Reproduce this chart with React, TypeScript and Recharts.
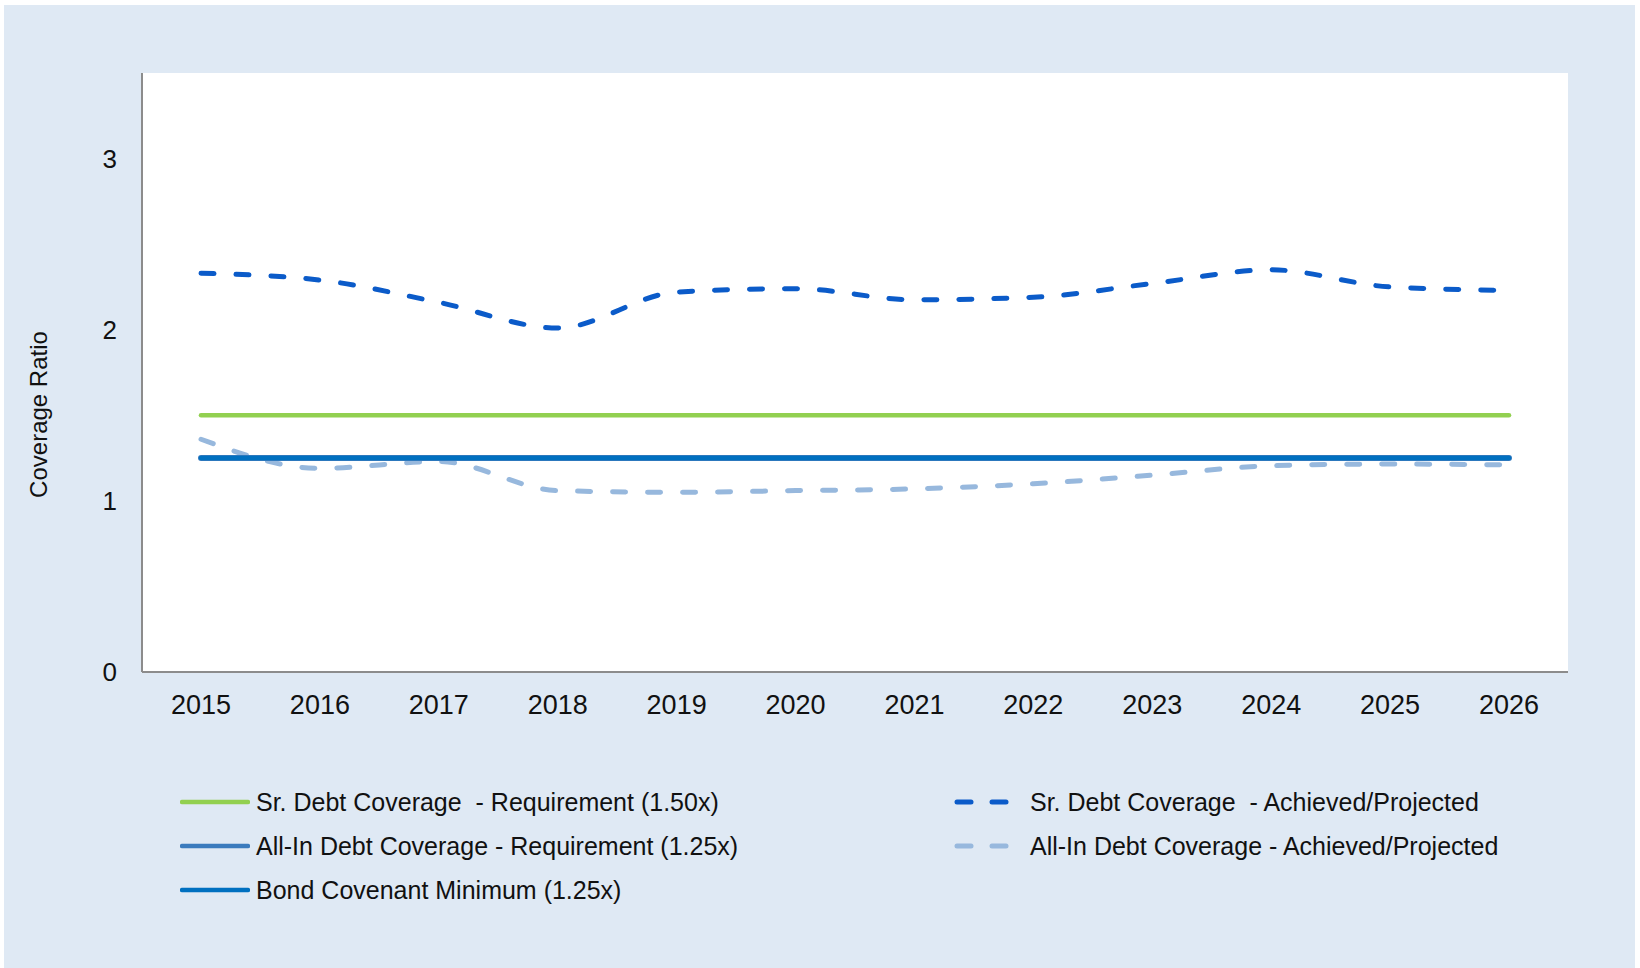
import { LineChart, Line, XAxis, YAxis, CartesianGrid, Legend, Label } from "recharts";

const years = ["2015", "2016", "2017", "2018", "2019", "2020", "2021", "2022", "2023", "2024", "2025", "2026"];
const srDebtRequirement = [1.5, 1.5, 1.5, 1.5, 1.5, 1.5, 1.5, 1.5, 1.5, 1.5, 1.5, 1.5];
const allInRequirement = [1.25, 1.25, 1.25, 1.25, 1.25, 1.25, 1.25, 1.25, 1.25, 1.25, 1.25, 1.25];
const bondCovenantMin = [1.25, 1.25, 1.25, 1.25, 1.25, 1.25, 1.25, 1.25, 1.25, 1.25, 1.25, 1.25];
const srDebtAchieved = [2.33, 2.29, 2.16, 2.01, 2.22, 2.24, 2.175, 2.19, 2.27, 2.35, 2.25, 2.23];
const allInAchieved = [1.36, 1.19, 1.23, 1.06, 1.05, 1.06, 1.07, 1.1, 1.15, 1.205, 1.215, 1.21];
const yTicks = [0, 1, 2, 3];

const data = years.map((year, i) => ({
  year,
  srReq: srDebtRequirement[i],
  allInReq: allInRequirement[i],
  bond: bondCovenantMin[i],
  srAch: srDebtAchieved[i],
  allInAch: allInAchieved[i],
}));

const FONT = '"Liberation Sans", Arial, sans-serif';
const PANEL = "#dfe9f4";

const series = [
  { key: "srReq", name: "Sr. Debt Coverage  - Requirement (1.50x)", color: "#92d050", dashed: false },
  { key: "allInReq", name: "All-In Debt Coverage - Requirement (1.25x)", color: "#3b7bbd", dashed: false },
  { key: "bond", name: "Bond Covenant Minimum (1.25x)", color: "#0070c0", dashed: false },
  { key: "srAch", name: "Sr. Debt Coverage  - Achieved/Projected", color: "#0b5bc9", dashed: true },
  { key: "allInAch", name: "All-In Debt Coverage - Achieved/Projected", color: "#97b8dd", dashed: true },
];

function LegendIcon({ color, dashed }: { color: string; dashed: boolean }) {
  if (dashed) {
    return (
      <svg width={56} height={10} style={{ flex: "none" }}>
        <line x1={3} y1={5} x2={17} y2={5} stroke={color} strokeWidth={5} strokeLinecap="round" />
        <line x1={38} y1={5} x2={52} y2={5} stroke={color} strokeWidth={5} strokeLinecap="round" />
      </svg>
    );
  }
  return (
    <svg width={70} height={10} style={{ flex: "none" }}>
      <line x1={2} y1={5} x2={68} y2={5} stroke={color} strokeWidth={4.5} strokeLinecap="round" />
    </svg>
  );
}

function renderLegend() {
  return (
    <div
      style={{
        display: "grid",
        gridTemplateColumns: "774px auto",
        gridTemplateRows: "44px 44px 44px",
        gridAutoFlow: "column",
        fontFamily: FONT,
        fontSize: 25,
        color: "#111",
      }}
    >
      {series.map((s) => (
        <div key={s.key} style={{ display: "flex", alignItems: "center", whiteSpace: "pre" }}>
          <LegendIcon color={s.color} dashed={s.dashed} />
          <span style={{ marginLeft: s.dashed ? 20 : 6 }}>{s.name}</span>
        </div>
      ))}
    </div>
  );
}

function AxisTitle(props: any) {
  const { viewBox } = props;
  const cy = viewBox.y + viewBox.height / 2 + 42;
  return (
    <text
      x={viewBox.x + 34}
      y={cy}
      transform={`rotate(-90, ${viewBox.x + 34}, ${cy})`}
      textAnchor="middle"
      dominantBaseline="central"
      fontFamily={FONT}
      fontSize={24}
      fill="#111"
    >
      Coverage Ratio
    </text>
  );
}

export default function App() {
  return (
    <div style={{ position: "fixed", left: 0, top: 0, width: 1640, height: 968, background: "#fff" }}>
      <div style={{ position: "absolute", left: 4, top: 5, width: 1631, height: 963, background: PANEL }}>
        <LineChart width={1631} height={963} data={data} margin={{ top: 68, right: 67, bottom: 236, left: 0 }}>
          <CartesianGrid horizontal={false} vertical={false} fill="#ffffff" />
          <XAxis
            dataKey="year"
            height={60}
            padding={{ left: 59, right: 59 }}
            tickLine={false}
            tickSize={0}
            tickMargin={23}
            axisLine={{ stroke: "#8c8c8c", strokeWidth: 2 }}
            tick={{ fontFamily: FONT, fontSize: 27, fill: "#111" }}
          />
          <YAxis
            width={138}
            domain={[0, 3.5]}
            ticks={yTicks}
            tickLine={false}
            tickSize={0}
            tickMargin={25}
            axisLine={{ stroke: "#8c8c8c", strokeWidth: 2 }}
            tick={{ fontFamily: FONT, fontSize: 26, fill: "#111" }}
          >
            <Label content={AxisTitle} />
          </YAxis>
          <Legend
            layout="vertical"
            align="center"
            verticalAlign="middle"
            content={renderLegend}
            wrapperStyle={{ left: 176, top: 775, width: 1400 }}
          />
          <Line
            type="monotone"
            dataKey="allInAch"
            name={series[4].name}
            stroke={series[4].color}
            strokeWidth={5}
            strokeDasharray="13 22"
            strokeLinecap="round"
            dot={false}
            isAnimationActive={false}
          />
          <Line
            type="monotone"
            dataKey="srReq"
            name={series[0].name}
            stroke={series[0].color}
            strokeWidth={4.5}
            strokeLinecap="round"
            dot={false}
            isAnimationActive={false}
          />
          <Line
            type="monotone"
            dataKey="allInReq"
            name={series[1].name}
            stroke={series[1].color}
            strokeWidth={6}
            strokeLinecap="round"
            dot={false}
            isAnimationActive={false}
          />
          <Line
            type="monotone"
            dataKey="bond"
            name={series[2].name}
            stroke={series[2].color}
            strokeWidth={4.5}
            strokeLinecap="round"
            dot={false}
            isAnimationActive={false}
          />
          <Line
            type="monotone"
            dataKey="srAch"
            name={series[3].name}
            stroke={series[3].color}
            strokeWidth={5}
            strokeDasharray="13 22"
            strokeLinecap="round"
            dot={false}
            isAnimationActive={false}
          />
        </LineChart>
      </div>
    </div>
  );
}
